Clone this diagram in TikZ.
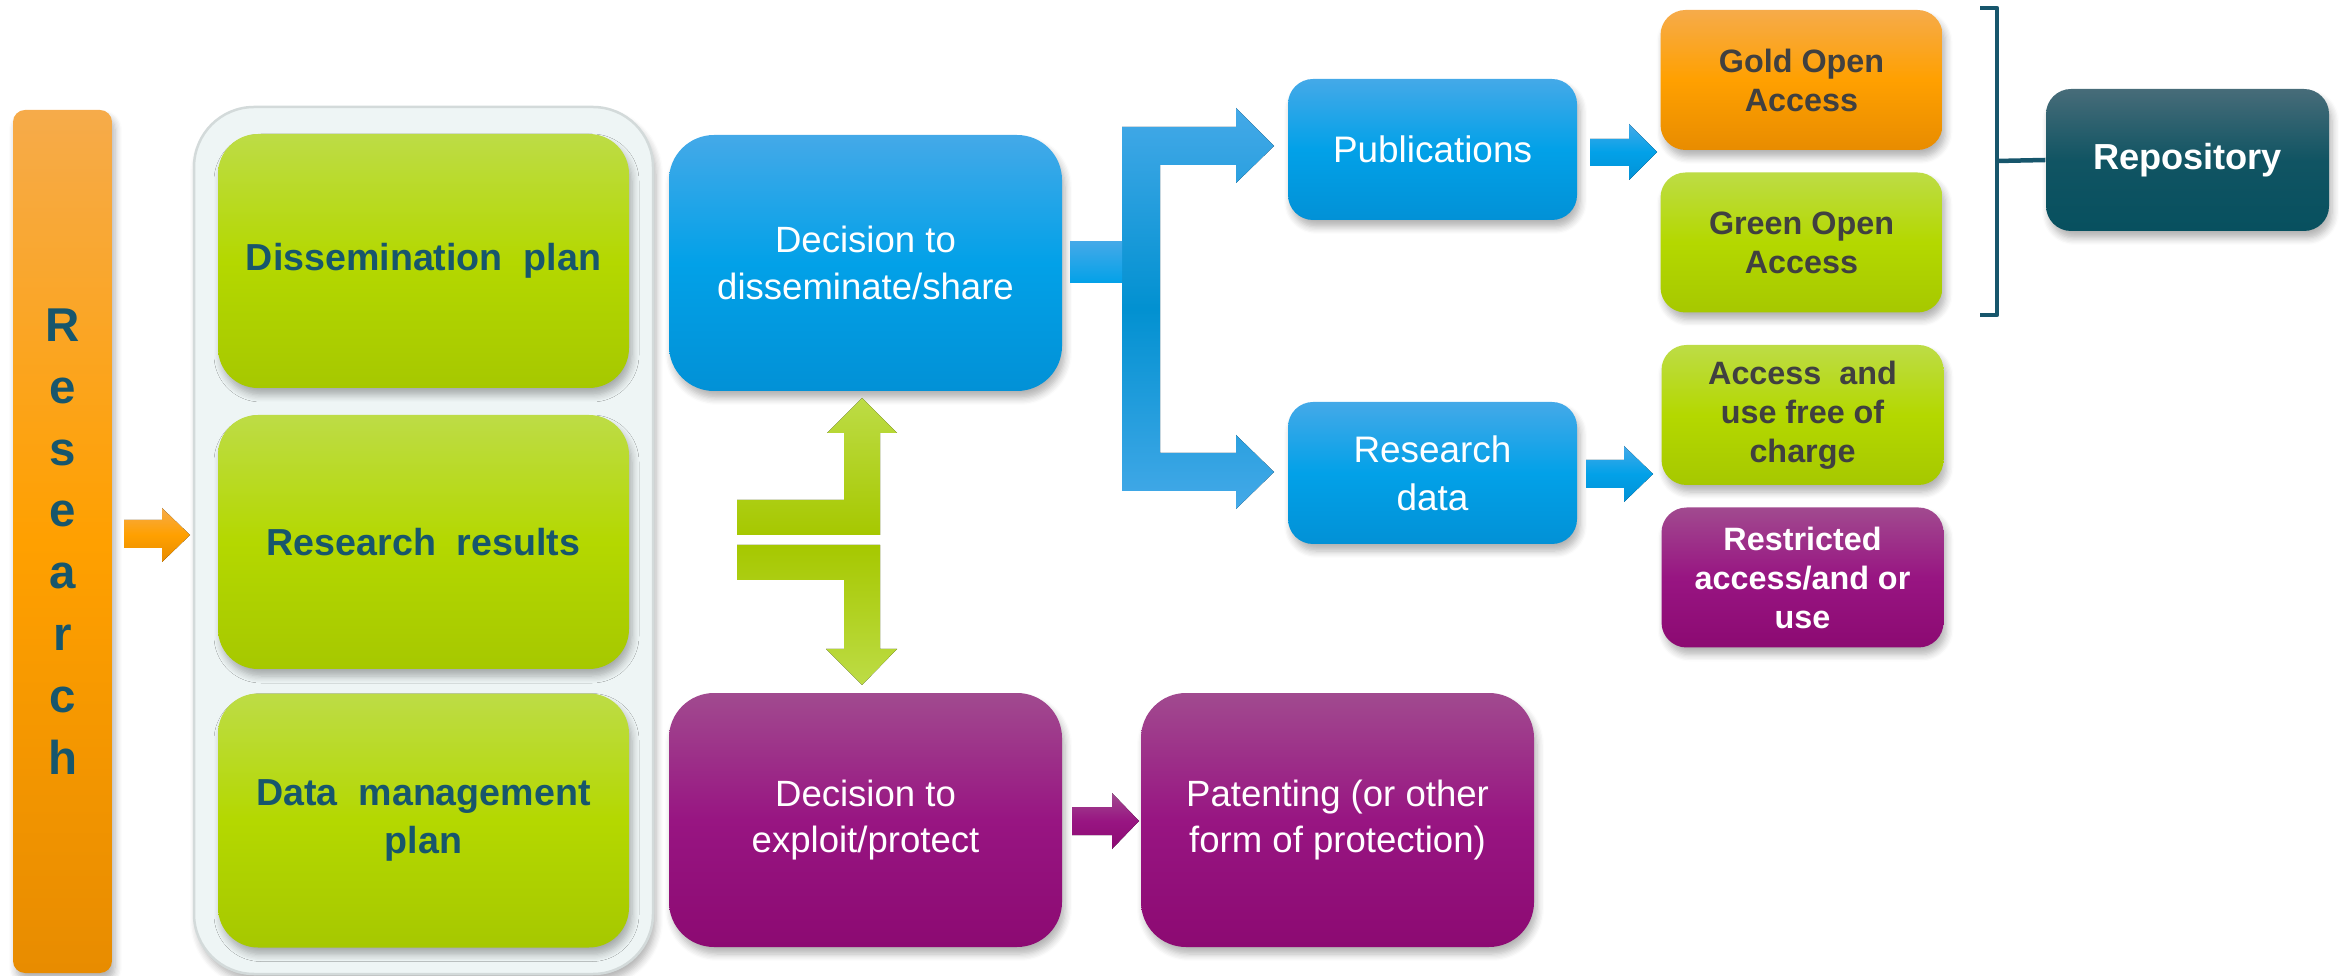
\documentclass[tikz,border=0pt]{standalone}
\usepackage{fontspec}
\setmainfont{Liberation Sans}
\usetikzlibrary{shadows.blur}
\definecolor{oT}{HTML}{F6AB4A}\definecolor{oM}{HTML}{FFA000}\definecolor{oB}{HTML}{E88C00}
\definecolor{gT}{HTML}{BDDC46}\definecolor{gM}{HTML}{B4D800}\definecolor{gB}{HTML}{A6C800}
\definecolor{bT}{HTML}{44A9E8}\definecolor{bM}{HTML}{02A1E8}\definecolor{bB}{HTML}{0291D6}
\definecolor{pT}{HTML}{A14A8F}\definecolor{pM}{HTML}{981582}\definecolor{pB}{HTML}{8C0A72}
\definecolor{rT}{HTML}{476C79}\definecolor{rB}{HTML}{07505F}
\definecolor{tealtxt}{HTML}{17566C}
\definecolor{graytxt}{HTML}{404040}
\definecolor{contfill}{HTML}{EEF5F5}\definecolor{contdraw}{HTML}{D3DADA}
\begin{document}
\begin{tikzpicture}[x=0.1mm,y=-0.1mm,
  shd/.style={blur shadow={shadow blur steps=6, shadow xshift=0.3mm, shadow yshift=-0.7mm, shadow opacity=30, shadow blur radius=0.7mm}},
  box/.style={rectangle, rounded corners=#1, inner sep=0pt, align=center, shd},
  orangefill/.style={top color=oT, bottom color=oB, middle color=oM},
  greenfill/.style={top color=gT, bottom color=gB, middle color=gM},
  bluefill/.style={top color=bT, bottom color=bB, middle color=bM},
  purplefill/.style={top color=pT, bottom color=pB, middle color=pM},
  repofill/.style={top color=rT, bottom color=rB, middle color=rB!85!rT},
  bigbox/.style={box=4.5mm, minimum width=39.3mm, minimum height=25.4mm, text=white, font=\fontsize{10.4}{13.2}\selectfont},
  planbox/.style={box=4mm, greenfill, minimum width=41.1mm, minimum height=25.4mm, text=tealtxt, font=\bfseries\fontsize{10.7}{13.4}\selectfont},
  midbox/.style={box=2.5mm, bluefill, minimum width=28.9mm, minimum height=14.1mm, text=white, font=\fontsize{10.5}{13.6}\selectfont},
  smallbox/.style={box=2.5mm, minimum width=28.2mm, minimum height=14mm, font=\bfseries\fontsize{9.2}{11.1}\selectfont},
]
\useasboundingbox (0,0) rectangle (2343,976);

% Research bar
\node[box=1.2mm, orangefill, minimum width=9.9mm, minimum height=86.3mm,
      text=tealtxt, font=\bfseries\fontsize{13.5}{17.6}\selectfont] (research) at (62.5,541.5) {R\\e\\s\\e\\a\\r\\c\\h};

% container of plans
\node[rectangle, rounded corners=6mm, fill=contfill, draw=contdraw, line width=0.25mm,
      minimum width=45.9mm, minimum height=86.7mm, shd] (plans) at (423.5,540.5) {};
\node[planbox] (dissplan) at (423.5,261) {Dissemination\ \ plan};
\node[planbox] (results) at (423.5,542) {Research\ \ results};
\node[planbox] (dmp) at (423.5,820.5) {Data\ \ management\\plan};

% orange arrow
\fill[orangefill] (124,520) -- (162,520) -- (162,508) -- (190,535) -- (162,562) -- (162,548) -- (124,548) -- cycle;

% decisions
\node[bigbox, bluefill, minimum height=25.6mm] (share) at (865.5,263) {Decision to\\disseminate/share};
\node[bigbox, purplefill] (exploit) at (865.5,820) {Decision to\\exploit/protect};
\node[bigbox, purplefill] (patent) at (1337.5,820) {Patenting (or other\\form of protection)};

% green double arrow
\fill[top color=gT, bottom color=gB] (737,500) -- (844,500) -- (844,433) -- (827,433) -- (862,398) -- (897,433) -- (880,433) -- (880,535) -- (737,535) -- cycle;
\fill[top color=gB, bottom color=gT] (737,545) -- (880,545) -- (880,649) -- (897,649) -- (862,685) -- (826,649) -- (844,649) -- (844,580) -- (737,580) -- cycle;

% blue fork
\fill[top color=bT, bottom color=bT, middle color=bM!90!black] (1122,127) -- (1236,127) -- (1236,108) -- (1274,146) -- (1236,183) -- (1236,165) -- (1160,165) -- (1160,453) -- (1236,453) -- (1236,435) -- (1274,472) -- (1236,509) -- (1236,491) -- (1122,491) -- cycle;
\fill[top color=bT, bottom color=bM] (1070,242) rectangle (1122,283);

% publications / data
\node[midbox] (pub) at (1432.5,149.5) {Publications};
\node[midbox, minimum height=14.2mm] (data) at (1432.5,473) {Research\\data};

% small blue arrows
\fill[bluefill] (1590,139) -- (1629,139) -- (1629,124) -- (1657,152) -- (1629,180) -- (1629,166) -- (1590,166) -- cycle;
\fill[bluefill] (1586,460) -- (1624,460) -- (1624,446) -- (1653,474) -- (1624,502) -- (1624,488) -- (1586,488) -- cycle;

% purple arrow
\fill[purplefill] (1072,807) -- (1112,807) -- (1112,793) -- (1139,821) -- (1112,849) -- (1112,835) -- (1072,835) -- cycle;

% access boxes
\node[smallbox, orangefill, text=graytxt] (gold) at (1801.5,80) {Gold Open\\Access};
\node[smallbox, greenfill, text=graytxt] (green) at (1801.5,242.5) {Green Open\\Access};
\node[smallbox, greenfill, text=graytxt] (free) at (1802.5,415) {Access\ \ and\\use free of\\charge};
\node[smallbox, purplefill, text=white] (restr) at (1802.5,577.5) {Restricted\\access/and or\\use};

% repository
\node[box=2.5mm, repofill, minimum width=28.3mm, minimum height=14.2mm, text=white,
      font=\bfseries\fontsize{10.3}{12}\selectfont] (repo) at (2187.5,160) {Repository};

% bracket
\coordinate (brtop) at (1980,8);
\coordinate (brbot) at (1980,315);
\coordinate (brmid) at (1997,161);
\draw[tealtxt, line width=0.45mm, line join=round] (brtop) -- (1997,8) -- (1997,315) -- (brbot);
\draw[tealtxt, line width=0.45mm] (brmid) -- (repo.west);
\end{tikzpicture}
\end{document}
